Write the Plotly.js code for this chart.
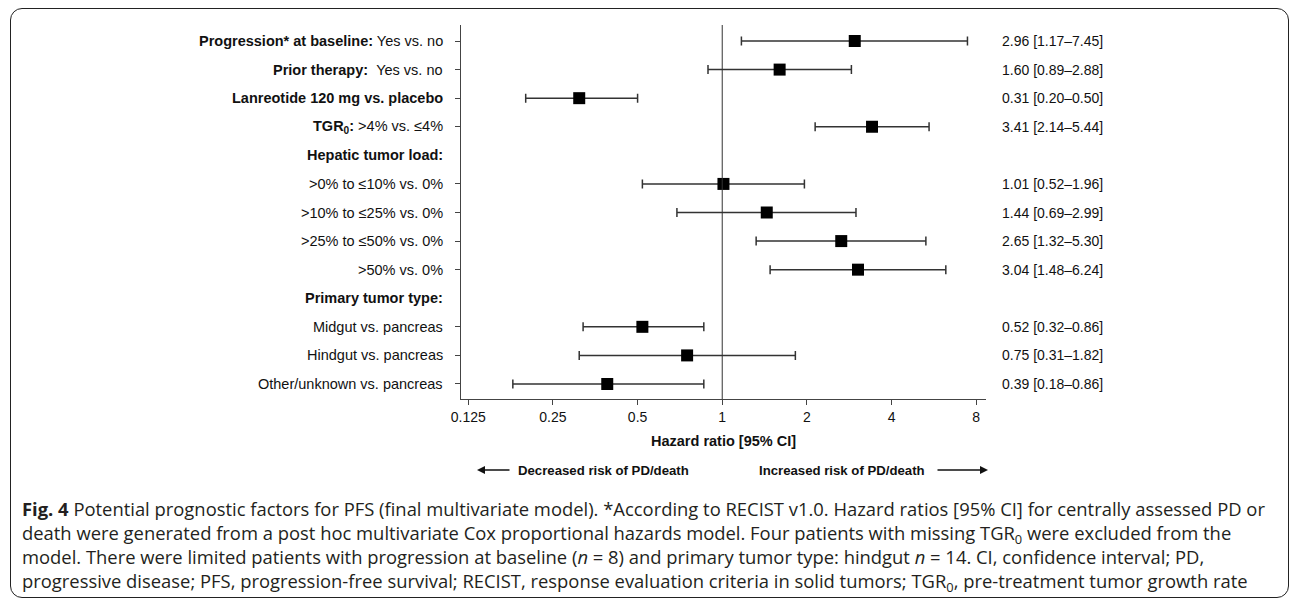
<!DOCTYPE html>
<html>
<head>
<meta charset="utf-8">
<script src="https://cdn.plot.ly/plotly-3.0.1.min.js"></script>
<style>
  html, body { margin: 0; padding: 0; background: #fff; }
  #wrap { position: relative; width: 1290px; height: 601px; overflow: hidden; }
  #chart { position: absolute; left: 0; top: 0; width: 1290px; height: 601px; }
  #frame { position: absolute; left: 10px; top: 8px; width: 1279px; height: 590px;
           border: 1.5px solid #222; border-radius: 12px; pointer-events: none; box-sizing: border-box; }
</style>
</head>
<body>
<div id="wrap">
  <div id="chart"></div>
  <div id="frame"></div>
</div>
<script>
// ---- data ----
const rowLabels = [
  "<b>Progression* at baseline:</b> Yes vs. no",
  "<b>Prior therapy:</b> \u00a0Yes vs. no",
  "<b>Lanreotide 120 mg vs. placebo</b>",
  "<b>TGR<sub>0</sub>:</b> >4% vs. ≤4%",
  "<b>Hepatic tumor load:</b>",
  ">0% to ≤10% vs. 0%",
  ">10% to ≤25% vs. 0%",
  ">25% to ≤50% vs. 0%",
  ">50% vs. 0%",
  "<b>Primary tumor type:</b>",
  "Midgut vs. pancreas",
  "Hindgut vs. pancreas",
  "Other/unknown vs. pancreas"
];
const hazardRatio = [2.96, 1.60, 0.31, 3.41, null, 1.01, 1.44, 2.65, 3.04, null, 0.52, 0.75, 0.39];
const ciLower     = [1.17, 0.89, 0.20, 2.14, null, 0.52, 0.69, 1.32, 1.48, null, 0.32, 0.31, 0.18];
const ciUpper     = [7.45, 2.88, 0.50, 5.44, null, 1.96, 2.99, 5.30, 6.24, null, 0.86, 1.82, 0.86];
const xTickVals   = [0.125, 0.25, 0.5, 1, 2, 4, 8];
const xTickText   = ["0.125", "0.25", "0.5", "1", "2", "4", "8"];
const axisTitle   = "<b>Hazard ratio [95% CI]</b>";
const leftNote    = "<b>Decreased risk of PD/death</b>";
const rightNote   = "<b>Increased risk of PD/death</b>";
const captionLines = [
  "<b>Fig. 4</b> Potential prognostic factors for PFS (final multivariate model). *According to RECIST v1.0. Hazard ratios [95% CI] for centrally assessed PD or",
  "death were generated from a post hoc multivariate Cox proportional hazards model. Four patients with missing TGR<sub>0</sub> were excluded from the",
  "model. There were limited patients with progression at baseline (<i>n</i> = 8) and primary tumor type: hindgut <i>n</i> = 14. CI, confidence interval; PD,",
  "progressive disease; PFS, progression-free survival; RECIST, response evaluation criteria in solid tumors; TGR<sub>0</sub>, pre-treatment tumor growth rate"
];

// ---- layout helpers (pixel -> paper) ----
const M = { l: 461, r: 304, t: 25, b: 202 };
const PW = 1290 - M.l - M.r, PH = 601 - M.t - M.b;
const px = v => (v - M.l) / PW;
const py = v => (601 - M.b - v) / PH;

const dataRows = rowLabels.filter((_, i) => hazardRatio[i] !== null);
const hrD = hazardRatio.filter(v => v !== null);
const loD = ciLower.filter(v => v !== null);
const hiD = ciUpper.filter(v => v !== null);

const trace = {
  type: 'scatter', mode: 'markers',
  x: hrD, y: dataRows,
  marker: { symbol: 'square', size: 12, color: '#000' },
  error_x: {
    type: 'data', symmetric: false,
    array: hrD.map((v, i) => hiD[i] - v),
    arrayminus: hrD.map((v, i) => v - loD[i]),
    color: '#333', thickness: 1.5, width: 4.5
  },
  hoverinfo: 'skip', showlegend: false, cliponaxis: false
};

const lblFont = { family: 'Liberation Sans, Arial, sans-serif', size: 14.5, color: '#111' };
const ciFont  = { family: 'Liberation Sans, Arial, sans-serif', size: 14, color: '#111' };
const annotations = [];
rowLabels.forEach((lab, i) => {
  annotations.push({ xref: 'paper', yref: 'y', x: 0, y: lab, xshift: -16, xanchor: 'right', yanchor: 'middle',
    text: lab, showarrow: false, font: lblFont });
  if (hazardRatio[i] !== null) {
    annotations.push({ xref: 'paper', yref: 'y', x: px(1000), y: lab, xanchor: 'left', yanchor: 'middle',
      text: hazardRatio[i].toFixed(2) + ' [' + ciLower[i].toFixed(2) + '–' + ciUpper[i].toFixed(2) + ']',
      showarrow: false, font: ciFont });
  }
});
annotations.push({ xref: 'paper', yref: 'paper', x: 0.5, y: py(441), xanchor: 'center', yanchor: 'middle',
  text: axisTitle, showarrow: false, font: lblFont });
const noteFont = { family: 'Liberation Sans, Arial, sans-serif', size: 13.2, color: '#111' };
annotations.push({ xref: 'paper', yref: 'paper', x: px(691), y: py(470), xanchor: 'right', yanchor: 'middle',
  text: leftNote, showarrow: false, font: noteFont });
annotations.push({ xref: 'paper', yref: 'paper', x: px(757), y: py(470), xanchor: 'left', yanchor: 'middle',
  text: rightNote, showarrow: false, font: noteFont });
// arrows
annotations.push({ xref: 'paper', yref: 'paper', x: px(477), y: py(470), ax: 34, ay: 0, text: '',
  showarrow: true, arrowhead: 2, arrowsize: 1, arrowwidth: 1.6, arrowcolor: '#111' });
annotations.push({ xref: 'paper', yref: 'paper', x: px(988), y: py(470), ax: -52, ay: 0, text: '',
  showarrow: true, arrowhead: 2, arrowsize: 1, arrowwidth: 1.6, arrowcolor: '#111' });
// caption (one block, four lines)
const capFont = { family: 'Open Sans, sans-serif', size: 18.4, color: '#231f20' };
annotations.push({ xref: 'paper', yref: 'paper', x: px(20), y: py(546), xanchor: 'left', yanchor: 'middle',
  align: 'left', text: captionLines.join('<br>'), showarrow: false, font: capFont });

const layout = {
  width: 1290, height: 601,
  margin: M,
  paper_bgcolor: '#fff', plot_bgcolor: '#fff',
  xaxis: {
    type: 'log',
    range: [Math.log10(0.125) - 0.026, Math.log10(8) + 0.035],
    tickmode: 'array', tickvals: xTickVals, ticktext: xTickText,
    ticks: 'outside', ticklen: 5, tickcolor: '#444', tickwidth: 1,
    showline: true, linecolor: '#444', linewidth: 1,
    showgrid: false, zeroline: false,
    tickfont: { family: 'Liberation Sans, Arial, sans-serif', size: 14, color: '#111' },
    fixedrange: true
  },
  yaxis: {
    type: 'category',
    categoryorder: 'array', categoryarray: rowLabels,
    range: [rowLabels.length - 1 + 0.525, -0.56],
    tickmode: 'array', tickvals: dataRows,
    ticks: 'outside', ticklen: 5, tickcolor: '#444', tickwidth: 1,
    showticklabels: false,
    showline: true, linecolor: '#444', linewidth: 1,
    showgrid: false, zeroline: false, fixedrange: true
  },
  shapes: [{ type: 'line', xref: 'x', yref: 'paper', x0: 1, x1: 1, y0: 0, y1: 1,
             line: { color: '#333', width: 1 } }],
  annotations: annotations
};

Plotly.newPlot('chart', [trace], layout, { displayModeBar: false, staticPlot: true });
</script>
</body>
</html>
